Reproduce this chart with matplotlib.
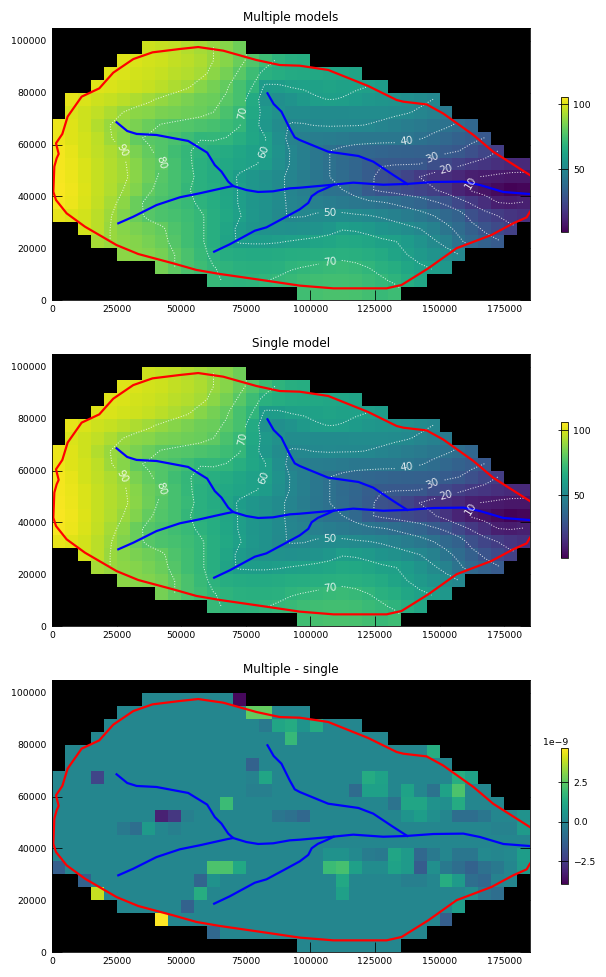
import numpy as np
import matplotlib
matplotlib.use('Agg')
import matplotlib.pyplot as plt

W, H = 606, 977

# Model grid: 37 columns and 21 rows of 5000 m cells
x_edges = np.arange(0, 185001, 5000)
y_edges = np.arange(105000, -1, -5000)
x_mid = (x_edges[:-1] + x_edges[1:]) / 2
y_mid = (y_edges[:-1] + y_edges[1:]) / 2

# First active column of rows 1..20 (row 0 has no active cells)
first_col = [7, 5, 4, 3, 1, 1, 0, 0, 0, 0, 0, 0, 0, 0, 2, 3, 5, 8, 12, 19]

# Simulated head in the active cells of rows 1..20
head_rows = [
    [98, 97, 96, 94, 92, 90, 87, 83],
    [101, 100, 99, 98, 96.5, 95, 93, 90, 87, 82, 77.5, 73, 69, 67, 66],
    [101, 100, 99, 98, 97, 95, 94, 92, 88, 84, 79, 73, 68, 66, 65, 64.5, 64, 63.5, 63, 62],
    [101, 100, 99, 98, 97, 95, 93, 91, 87, 84, 81, 75, 70, 58.5, 59, 60.5, 61, 61.5, 62, 61.5,
     60.8, 60, 59],
    [102, 100, 98, 97, 95, 93, 91, 89, 87, 85, 83, 82, 79, 75, 65, 55, 53, 55, 57.5, 59.5,
     60.2, 59.7, 58.5, 57, 56, 55, 53, 51.5, 50],
    [100, 98, 96, 93, 90, 88, 87, 85, 84, 83, 82, 80, 76, 72, 64, 57.5, 54, 52, 52, 51.5,
     51.5, 51.5, 52, 52, 52, 51.5, 50.5, 49, 47, 44],
    [103, 101, 98, 94, 90, 88, 85, 82, 79.5, 78.5, 77.5, 76.5, 75, 73, 70.5, 63, 57, 52, 49.5,
     49.7, 50.2, 50.5, 50.4, 50.3, 49.8, 48.8, 47, 45.5, 44, 42.5, 41, 39, 36],
    [103, 101, 99, 95.5, 90.5, 87, 81, 79, 77.5, 76, 73, 70.3, 70.8, 69.8, 67, 63.5, 60.3, 53,
     48, 46, 45.5, 45, 44, 43, 43, 43, 43, 42, 40.5, 38.5, 36.5, 34, 32, 29.8],
    [104, 102, 99, 96, 93, 90, 85, 81, 77.5, 74, 70.5, 68.5, 67, 65.5, 63.5, 61, 59.9, 54.5,
     49.5, 46, 43, 40, 38, 37, 36, 35, 34.5, 34, 33.5, 33, 31.5, 30, 27, 23.5, 20],
    [104, 102.5, 100, 97, 94, 91, 87, 82.5, 80, 75, 71, 68, 65.5, 64, 62.5, 60.8, 58.8, 53.5, 49.5,
     46, 43, 40, 37.5, 35.5, 32.5, 30.5, 30.3, 30.3, 30, 26.5, 24, 21.5, 19, 17.5, 15.5, 14, 13.5],
    [104.5, 103, 100, 97, 94, 91.5, 87.5, 83, 78.5, 75, 72, 68, 65.5, 63.5, 59, 56.5, 54, 51.5,
     48.5, 45.5, 42.5, 40, 38, 35, 31.5, 28, 26, 23, 19.8, 17, 15, 13, 10.3, 9.5, 8.5, 8, 8],
    [105, 103.5, 100.5, 97, 93.5, 90, 86, 81, 77.5, 75, 70.5, 68, 66, 63, 59.5, 56.5, 54.5, 51.5,
     48.5, 46, 43, 41, 40, 37, 31, 28.5, 27, 25, 23, 20.8, 17, 12, 9, 6.5, 4, 2, 3],
    [104.5, 103, 100, 96.5, 92, 88, 82, 78, 76, 74, 72, 68.5, 66, 63.5, 59.5, 56.5, 54.5, 51.5,
     49, 47.5, 46.5, 45.5, 44, 43, 42, 40.8, 39, 37, 35, 31.5, 28.5, 24, 19, 15, 10.2, 9.6, 10.5],
    [102, 101, 99, 95, 90.5, 86, 82, 78.5, 76.5, 75, 73, 71, 67, 64, 60.5, 57, 54.5, 51, 49.5,
     49.7, 51, 51.5, 52, 51, 50.3, 49, 47, 45, 43, 40.2, 37, 34, 27, 23, 20, 17.5, 16],
    [99, 95, 90, 87, 85, 83, 81, 77, 74, 71, 67, 63, 58.5, 56, 54.5, 54, 53.5, 54, 55, 57, 59.5,
     59, 57.5, 55.5, 54, 52, 50, 47, 42, 38, 33, 28.5, 25, 21.5],
    [92, 90, 88, 86.5, 84.5, 82, 78, 74, 71, 67, 62, 59.3, 59, 59, 59.5, 60.5, 61.5, 62.5, 63.5,
     64.5, 64, 63, 61.5, 60.3, 58.5, 55, 51, 48, 41.5, 37, 34, 31],
    [88, 87, 86, 84, 80, 76, 72, 68.5, 66.5, 65.5, 65, 65, 65.5, 66, 66.5, 67, 67.5, 68, 67.5,
     66.5, 65, 62.5, 60, 57.5, 55, 52.5, 50],
    [84, 80, 76, 73, 70.2, 69, 68, 67.5, 67.5, 68, 69.5, 70.2, 71, 72, 72.5, 71.5, 70, 68, 66,
     63.5, 61, 59.5, 57],
    [71.5, 69, 68.5, 69, 69.7, 71, 72, 73, 74, 74.5, 74.5, 74, 72.5, 71, 69, 66, 63.5],
    [74, 75, 76, 76, 75.5, 74.5, 72, 73],
]

# Cells where the two runs differ, in units of 1e-9; every other active cell is 0
diff_row = [1, 2, 2, 3, 3, 3, 3, 3, 4, 6, 7, 7, 7, 8, 8, 9, 10, 10, 10, 10, 10, 10,
            11, 11, 11, 11, 14, 14, 14, 14, 15, 15, 15, 16, 16, 17, 18, 19,
            5, 7, 7, 7, 7, 8, 8, 8, 8, 8, 8, 8, 9, 9, 9, 9, 9, 9,
            10, 10, 10, 10, 10, 10, 10, 11, 11, 11,
            13, 13, 13, 13, 13, 13, 13, 13, 13, 13, 13, 13, 13, 13,
            14, 14, 14, 14, 14, 14, 14, 14, 14, 14, 14, 14, 14, 14, 14,
            15, 15, 15, 15, 15, 15, 15, 15, 16, 16, 16, 16, 17, 18]
diff_col = [14, 15, 16, 16, 17, 18, 19, 20, 18, 15, 3, 15, 16, 15, 16, 13, 8, 9, 10, 17, 18, 19,
            5, 6, 7, 9, 0, 12, 13, 14, 2, 11, 12, 3, 11, 10, 8, 12,
            29, 24, 25, 31, 32, 23, 24, 25, 27, 29, 30, 31, 26, 27, 28, 29, 30, 31,
            27, 28, 29, 31, 32, 33, 36, 34, 35, 36,
            21, 22, 23, 24, 25, 26, 27, 28, 29, 31, 32, 33, 35, 36,
            21, 22, 23, 24, 25, 26, 27, 28, 29, 30, 31, 32, 33, 34, 36,
            22, 27, 28, 30, 31, 32, 33, 34, 22, 32, 33, 34, 31, 30]
diff_val = [-3.8, 2.6, 2.6, -0.5, 1.1, 1.3, 0.5, 1.3, 1.8, -1.3, -2.2, -0.2, 1.1, -0.3, -0.3, 1.9,
            -3.2, -2.6, -0.3, -0.6, -0.8, -1.1,
            -0.5, -0.9, 0.7, -0.3, -1.4, 2.2, 2.2, 1.2, -1.3, -1.2, 0.4, 3.9, 1.4, -1.3, 4.66, -1.1,
            1.4, 1.3, 1.0, 1.4, 1.0, -1.0, 0.9, 0.9, 1.0, -0.7, 1.0, 2.2, -0.7, 1.1, 1.1, 0.4, 0.3, 1.3,
            0.5, 0.8, 0.3, -0.9, -0.9, -0.6, 0.4, -0.2, -0.2, 0.7,
            0.4, 0.4, 0.1, -0.4, -0.5, 1.1, 0.7, -1.1, -0.5, -0.6, -0.6, 0.1, 0.1, 0.8,
            1.9, 2.1, 0.9, 0.2, 0.2, 1.0, 0.7, -1.5, 0.3, -0.5, -0.9, -1.3, -0.8, -0.5, 0.7,
            1.2, -0.3, -0.3, 1.4, 0.7, -0.9, -1.1, -0.2, 0.9, 0.2, -0.6, -0.9, 0.8, -1.4]

# Model boundary, from the outlet along the north side and back along the south side
bound_x = [185000, 170800, 163100, 151400, 145000, 136000, 133400, 122400, 106900, 95900,
           88150, 79100, 66250, 56600, 49500, 38900, 31450, 23700, 18300, 11470,
           6050, 4000, 1550, 2580, 1800, 900, 515, 1550, 5670, 12760,
           25000, 33400, 46900, 55900, 64950, 83000, 95900, 108900, 129500, 135300,
           145600, 156600, 170100, 178500, 183700, 185000]
bound_y = [48200, 57200, 63700, 72000, 75500, 76550, 77200, 82600, 88800, 90450,
           90700, 92650, 96250, 97650, 96900, 95600, 93000, 87750, 81700, 78500,
           70800, 64100, 60500, 56400, 54700, 51500, 41800, 38600, 33450, 28300,
           21200, 17750, 14150, 11600, 10050, 7450, 5550, 4500, 4500, 5800,
           12200, 20000, 25100, 29600, 31900, 34100]

# River reaches
main_x = [25000, 29100, 32750, 40450, 52700, 60050, 63000, 65600, 68200, 70100, 75250, 79800,
          85550, 92000, 95900, 107600, 116600, 128200, 137300, 147600, 159200, 165600, 174700, 185000]
main_y = [68600, 65250, 64100, 63700, 61400, 56900, 52100, 49550, 45700, 44000, 42450, 41700,
          41950, 43100, 43350, 44400, 45300, 44500, 44800, 45550, 45700, 44400, 41700, 40900]
west_x = [25650, 31450, 40450, 49500, 57200, 67500, 70100]
west_y = [29600, 32150, 36650, 39650, 41200, 43500, 44000]
south_x = [62750, 68800, 78500, 83000, 89450, 95900, 99200, 100500, 102900, 106500, 109000]
south_y = [18650, 21500, 26750, 28050, 31500, 35000, 37500, 40050, 41750, 43300, 44500]
north_x = [83400, 85800, 88800, 92000, 93950, 95900, 106900, 118600, 124350, 132100, 137500]
north_y = [79800, 75650, 72700, 66250, 62800, 61750, 57250, 55600, 53400, 48250, 44800]

contour_levels = [10, 20, 30, 40, 50, 60, 70, 80, 90]
label_x = [27300, 42650, 73970, 81700, 107600, 107600, 137250, 147600, 152700, 162400]
label_y = [57650, 53500, 72050, 57250, 35000, 15050, 59800, 54650, 50150, 45000]

panel_titles = ['Multiple models', 'Single model', 'Multiple - single']
panel_tops = [28, 354, 680]
cbar_tops = [96.5, 422.3, 748.3]

# Fill the grid from the per-row lists
head = np.full((21, 37), np.nan)
for i, (start, vals) in enumerate(zip(first_col, head_rows)):
    head[i + 1, start:start + len(vals)] = vals
active = ~np.isnan(head)
head = np.ma.masked_invalid(head)

diff = np.full((21, 37), np.nan)
diff[active] = 0.0
for r, c, v in zip(diff_row, diff_col, diff_val):
    diff[r, c] = v * 1e-9
diff = np.ma.masked_invalid(diff)


def add_axes_px(fig, left, top, right, bottom):
    return fig.add_axes([left / W, 1 - bottom / H, (right - left) / W, (bottom - top) / H])


def draw_rivers(ax):
    ax.plot(bound_x, bound_y, color='red', lw=2.2)
    for xs, ys in [(main_x, main_y), (west_x, west_y), (south_x, south_y), (north_x, north_y)]:
        ax.plot(xs, ys, color='blue', lw=2.2)


fig = plt.figure(figsize=(W / 72, H / 72), dpi=72)

for k in range(3):
    top = panel_tops[k]
    ax = add_axes_px(fig, 52, top, 530, top + 272)
    ax.set_facecolor('black')

    if k < 2:
        mesh = ax.pcolormesh(x_edges, y_edges, head, cmap='viridis', vmin=1.5, vmax=106)
        cs = ax.contour(x_mid, y_mid, head, levels=contour_levels, colors='white',
                        linestyles=':', linewidths=1, alpha=0.85)
        ax.clabel(cs, fmt='%d', fontsize=10.5, colors='white',
                  manual=list(zip(label_x, label_y)))
    else:
        mesh = ax.pcolormesh(x_edges, y_edges, diff, cmap='viridis', vmin=-3.98e-9, vmax=4.66e-9)

    draw_rivers(ax)

    ax.set_xlim(0, 185000)
    ax.set_ylim(0, 105000)
    ax.set_xticks(np.arange(0, 175001, 25000))
    ax.set_yticks(np.arange(0, 100001, 20000))
    ax.tick_params(direction='in', length=10, width=0.8, top=True, right=True, labelsize=9.2, pad=5.5)
    ax.set_title(panel_titles[k], fontsize=12, pad=7)

    # Narrow colour bar to the right of each map
    cax = add_axes_px(fig, 561.3, cbar_tops[k], 568.3, cbar_tops[k] + 136)
    cb = fig.colorbar(mesh, cax=cax)
    if k < 2:
        cb.set_ticks([50, 100])
    else:
        cb.set_ticks([-2.5e-9, 0, 2.5e-9])
    cb.ax.tick_params(direction='in', length=10, width=0.8, labelsize=9.2, pad=5)
    cb.ax.yaxis.get_offset_text().set_fontsize(9.2)

fig.savefig('out.png', dpi=72)
